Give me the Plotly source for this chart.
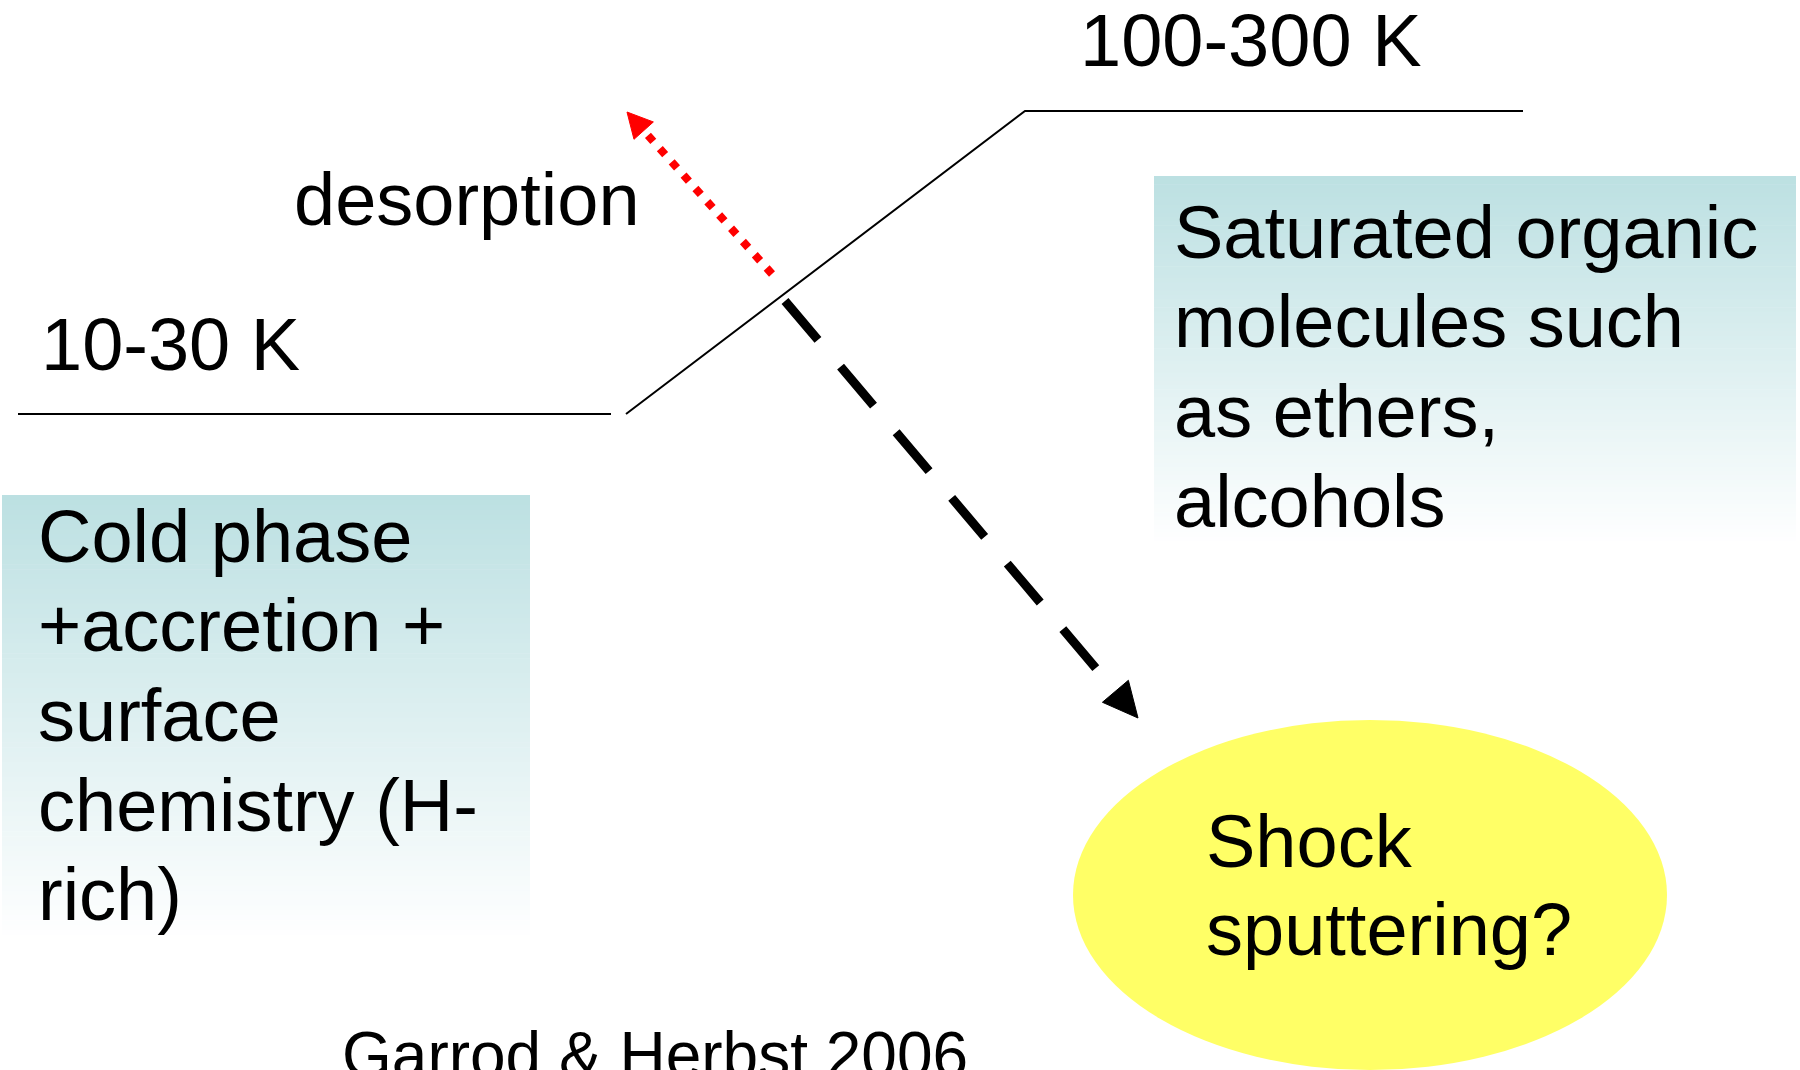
import plotly.graph_objects as go

# ---- content (labels) ----
level_labels = ["10-30 K", "100-300 K"]
process_label = "desorption"
cold_lines = ["Cold phase", "+accretion +", "surface", "chemistry (H-", "rich)"]
warm_lines = ["Saturated organic", "molecules such", "as ethers,", "alcohols"]
shock_lines = ["Shock", "sputtering?"]
citation = "Garrod & Herbst 2006"

W, H = 1800, 1070
FONT = "Liberation Sans, Arial, sans-serif"
FS = 74

fig = go.Figure()
shapes = []


def gradient_box(x0, x1, y0, y1, top=(188, 224, 226), n=90):
    out = []
    h = (y1 - y0) / n
    for i in range(n):
        t = (i + 0.5) / n
        c = [round(top[k] + (255 - top[k]) * t) for k in range(3)]
        out.append(dict(type="rect", xref="x", yref="y", layer="below",
                        x0=x0, x1=x1, y0=y0 + i * h, y1=y0 + (i + 1) * h + 0.6,
                        line=dict(width=0), fillcolor=f"rgb({c[0]},{c[1]},{c[2]})"))
    return out


shapes += gradient_box(2, 530, 495, 940)
shapes += gradient_box(1154, 1796, 176, 545)
shapes.append(dict(type="circle", xref="x", yref="y", layer="below",
                   x0=1073, x1=1667, y0=720, y1=1070,
                   fillcolor="#FFFF66", line=dict(width=0)))

# energy-level path
fig.add_trace(go.Scatter(x=[18, 611], y=[414, 414], mode="lines",
                         line=dict(color="black", width=2), hoverinfo="skip"))
fig.add_trace(go.Scatter(x=[626, 1025, 1523], y=[414, 111, 111], mode="lines",
                         line=dict(color="black", width=2), hoverinfo="skip"))


def arrow_head(tip, u, length, half):
    bx, by = tip[0] - length * u[0], tip[1] - length * u[1]
    px, py = -u[1], u[0]
    return ([tip[0], bx + half * px, bx - half * px, tip[0]],
            [tip[1], by + half * py, by - half * py, tip[1]])


def unit(a, b):
    dx, dy = b[0] - a[0], b[1] - a[1]
    d = (dx * dx + dy * dy) ** 0.5
    return (dx / d, dy / d)


# red dotted desorption arrow
r_start, r_tip = (772, 274), (627, 112)
ur = unit(r_start, r_tip)
r_end = (r_tip[0] - 21 * ur[0], r_tip[1] - 21 * ur[1])
fig.add_trace(go.Scatter(x=[r_start[0], r_end[0]], y=[r_start[1], r_end[1]], mode="lines",
                         line=dict(color="#FF0000", width=8, dash="8px,9.8px"),
                         hoverinfo="skip"))
hx, hy = arrow_head(r_tip, ur, 25, 13)
fig.add_trace(go.Scatter(x=hx, y=hy, mode="lines", fill="toself", fillcolor="#FF0000",
                         line=dict(color="#FF0000", width=1), hoverinfo="skip"))

# black dashed arrow
b_start, b_tip = (785, 301), (1138, 718)
ub = unit(b_start, b_tip)
b_end = (b_tip[0] - 30 * ub[0], b_tip[1] - 30 * ub[1])
fig.add_trace(go.Scatter(x=[b_start[0], b_end[0]], y=[b_start[1], b_end[1]], mode="lines",
                         line=dict(color="black", width=9, dash="51px,35px"),
                         hoverinfo="skip"))
hx, hy = arrow_head(b_tip, ub, 35, 17)
fig.add_trace(go.Scatter(x=hx, y=hy, mode="lines", fill="toself", fillcolor="black",
                         line=dict(color="black", width=1), hoverinfo="skip"))

ann = []


def text(x, y, s, size=FS):
    ann.append(dict(x=x, y=y, xref="x", yref="y", text=s, showarrow=False,
                    xanchor="left", yanchor="middle",
                    font=dict(family=FONT, size=size, color="black")))


text(39, 344, level_labels[0])
text(1078, 40, level_labels[1])
text(292, 199, process_label)
for i, s in enumerate(cold_lines):
    text(36, 536 + 89.7 * i, s)
for i, s in enumerate(warm_lines):
    text(1172, 232 + 89.7 * i, s)
for i, s in enumerate(shock_lines):
    text(1204, 841 + 88 * i, s)
text(340, 1055, citation, size=64)

fig.update_layout(
    width=W, height=H, margin=dict(l=0, r=0, t=0, b=0),
    paper_bgcolor="white", plot_bgcolor="white", showlegend=False,
    xaxis=dict(range=[0, W], visible=False, fixedrange=True),
    yaxis=dict(range=[H, 0], visible=False, fixedrange=True),
    shapes=shapes, annotations=ann,
)
fig.write_html("out.html", config={"displayModeBar": False},
               post_script="document.body.style.margin='0';document.body.style.overflow='hidden';")
